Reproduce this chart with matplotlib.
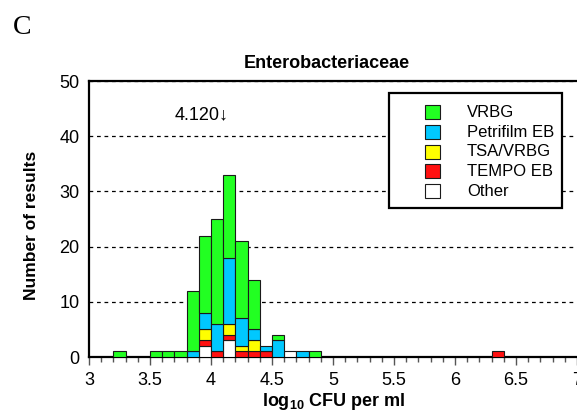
import numpy as np
import matplotlib
matplotlib.use("Agg")
import matplotlib.pyplot as plt
from matplotlib.patches import Rectangle

plt.rcParams['font.family'] = ['Liberation Sans', 'DejaVu Sans']
plt.rcParams['mathtext.fontset'] = 'custom'
plt.rcParams['mathtext.rm'] = 'Liberation Sans'
plt.rcParams['mathtext.bf'] = 'Liberation Sans:bold'
plt.rcParams['mathtext.it'] = 'Liberation Sans:italic'

# histogram bins (left edge, width 0.1 log10 CFU/ml) and counts per method
bin_left = [3.2, 3.5, 3.6, 3.7, 3.8, 3.9, 4.0, 4.1, 4.2, 4.3, 4.4, 4.5, 4.6, 4.7, 4.8, 6.3]
vrbg     = [1, 1, 1, 1, 11, 14, 19, 15, 14, 9, 0, 1, 0, 0, 1, 0]
petri    = [0, 0, 0, 0, 1, 3, 5, 12, 5, 2, 1, 3, 0, 1, 0, 0]
tsa      = [0, 0, 0, 0, 0, 2, 0, 2, 1, 2, 0, 0, 0, 0, 0, 0]
tempo    = [0, 0, 0, 0, 0, 1, 1, 1, 1, 1, 1, 0, 0, 0, 0, 1]
other    = [0, 0, 0, 0, 0, 2, 0, 3, 0, 0, 0, 0, 1, 0, 0, 0]
median_value = 4.120

# stacked from the bottom up
stack = [
    ("Other", other, "#ffffff"),
    ("TEMPO EB", tempo, "#ff1010"),
    ("TSA/VRBG", tsa, "#ffff00"),
    ("Petrifilm EB", petri, "#00c8ff"),
    ("VRBG", vrbg, "#22ff22"),
]
legend_order = ["VRBG", "Petrifilm EB", "TSA/VRBG", "TEMPO EB", "Other"]

fig = plt.figure(figsize=(5.77, 4.16), dpi=100)
ax = fig.add_axes([89 / 577, 59 / 416, 488 / 577, 276 / 416])

bottom = np.zeros(len(bin_left))
colors = {}
for name, counts, color in stack:
    counts = np.array(counts)
    mask = counts > 0
    ax.bar(np.array(bin_left)[mask], counts[mask], width=0.1, align='edge',
           bottom=bottom[mask], color=color, edgecolor='#1a1a1a', linewidth=0.8,
           zorder=3)
    bottom += counts
    colors[name] = color

ax.set_xlim(3, 7)
ax.set_ylim(0, 50)
ax.set_xticks(np.arange(3, 7.01, 0.5))
ax.set_xticklabels(['3', '3.5', '4', '4.5', '5', '5.5', '6', '6.5', '7'])
ax.set_xticks(np.arange(3, 7.01, 0.1), minor=True)
ax.set_yticks([0, 10, 20, 30, 40, 50])

ax.tick_params(axis='x', which='major', direction='out', length=6, width=1,
               color='#555555', labelsize=13, pad=5)
ax.tick_params(axis='x', which='minor', direction='out', length=3.5, width=1,
               color='#555555')
ax.tick_params(axis='y', length=0, labelsize=13, pad=7)

ax.yaxis.grid(True, linestyle=(0, (3, 3)), color='black', linewidth=0.9)
ax.set_axisbelow(True)

for side in ['left', 'bottom', 'top']:
    ax.spines[side].set_linewidth(1.6)
    ax.spines[side].set_color('black')
ax.spines['right'].set_visible(False)

ax.text(median_value + 0.025, 43.8, "4.120\u2193", ha='right', va='center',
        fontsize=13)

# legend box drawn by hand in axes coordinates
def px_x(px):
    return (px - 89) / 488

def px_y(py):
    return (357 - py) / 276

ax.add_patch(Rectangle((px_x(389), px_y(208)), px_x(562) - px_x(389),
                       px_y(93) - px_y(208), transform=ax.transAxes,
                       facecolor='white', edgecolor='black', linewidth=1.6,
                       zorder=6))
row_y = [112, 132, 151.5, 171, 191]
for name, ry in zip(legend_order, row_y):
    ax.add_patch(Rectangle((px_x(425), px_y(ry + 7)), px_x(440) - px_x(425),
                           px_y(ry - 7) - px_y(ry + 7), transform=ax.transAxes,
                           facecolor=colors[name], edgecolor='#1a1a1a',
                           linewidth=0.8, zorder=7))
    ax.text(px_x(467), px_y(ry), name, transform=ax.transAxes, ha='left',
            va='center', fontsize=12, zorder=7)

fig.text(327 / 577, 1 - 63 / 416, "Enterobacteriaceae", ha='center', va='center',
         fontsize=13, fontweight='bold')
fig.text(32 / 577, 1 - 225 / 416, "Number of results", ha='center', va='center',
         rotation=90, fontsize=12.5, fontweight='bold')
fig.text(334 / 577, 1 - 401 / 416, r"$\mathbf{log_{10}\ CFU\ per\ ml}$",
         ha='center', va='center', fontsize=13)
fig.text(22 / 577, 1 - 28 / 416, "C", ha='center', va='center', fontsize=20,
         family='Liberation Serif')

fig.savefig("out.png", dpi=100)
